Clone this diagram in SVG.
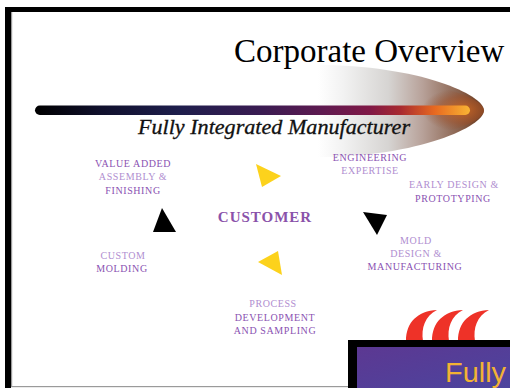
<svg xmlns="http://www.w3.org/2000/svg" width="510" height="388" viewBox="0 0 510 388">
  <defs>
    <linearGradient id="barGrad" gradientUnits="userSpaceOnUse" x1="35" y1="0" x2="470" y2="0">
      <stop offset="0" stop-color="#000000"/>
      <stop offset="0.15" stop-color="#10102c"/>
      <stop offset="0.33" stop-color="#1e1e4c"/>
      <stop offset="0.52" stop-color="#3a1c52"/>
      <stop offset="0.66" stop-color="#5e1a50"/>
      <stop offset="0.77" stop-color="#801846"/>
      <stop offset="0.84" stop-color="#a82a30"/>
      <stop offset="0.92" stop-color="#e86a20"/>
      <stop offset="1" stop-color="#f8b434"/>
    </linearGradient>
    <linearGradient id="cometGrad" gradientUnits="userSpaceOnUse" x1="318" y1="0" x2="486" y2="0">
      <stop offset="0" stop-color="#ffffff"/>
      <stop offset="0.15" stop-color="#f2f2f2"/>
      <stop offset="0.42" stop-color="#d6d4d2"/>
      <stop offset="0.62" stop-color="#b8a29a"/>
      <stop offset="0.8" stop-color="#926e5c"/>
      <stop offset="0.92" stop-color="#7a4a30"/>
      <stop offset="1" stop-color="#6a3a20"/>
    </linearGradient>
    <radialGradient id="cometGlow" gradientUnits="userSpaceOnUse" cx="462" cy="110" r="40" gradientTransform="translate(462 110) scale(1 0.55) translate(-462 -110)">
      <stop offset="0" stop-color="#d06820" stop-opacity="0.9"/>
      <stop offset="0.6" stop-color="#a05028" stop-opacity="0.5"/>
      <stop offset="1" stop-color="#905030" stop-opacity="0"/>
    </radialGradient>
    <linearGradient id="panelGrad" x1="0" y1="0" x2="1" y2="1">
      <stop offset="0" stop-color="#5c3892"/>
      <stop offset="1" stop-color="#4c449e"/>
    </linearGradient>
    <style>
      .lbl { font-family: "Liberation Serif", "Times New Roman", serif; font-size: 10px; letter-spacing: 0.6px; text-anchor: middle; }
      .lt { fill: #b08ed0; }
      .dk { fill: #8a52b2; }
      .tri-y { fill: #fcd21c; }
      .tri-k { fill: #000000; }
      .crescent { fill: #ee3228; }
    </style>
  </defs>

  <rect x="0" y="0" width="510" height="388" fill="#ffffff"/>

  <!-- frame -->
  <g id="frame">
    <rect x="5" y="7" width="505" height="5" fill="#000000"/>
    <rect x="5" y="7" width="6" height="381" fill="#000000"/>
    <rect x="11" y="12" width="1.2" height="375" fill="#9a9a9a"/>
    <rect x="11" y="386" width="340" height="1.2" fill="#9a9a9a"/>
  </g>

  <!-- title banner -->
  <g id="banner">
    <path d="M 316,65 C 420,65 484,95 484,110.5 C 484,126 420,157 316,157 Z" fill="url(#cometGrad)"/>
    <path d="M 420,84 C 460,90 484,102 484,110.5 C 484,119 460,131 420,137 Z" fill="url(#cometGlow)"/>
    <rect x="35" y="105.5" width="435" height="9.5" rx="4.75" fill="url(#barGrad)"/>
    <text x="234" y="62" font-family="'Liberation Serif', 'Times New Roman', serif" font-size="33" fill="#000000">Corporate Overview</text>
    <text x="138" y="134" font-family="'Liberation Serif', 'Times New Roman', serif" font-size="20" font-style="italic" fill="#111111" stroke="#111111" stroke-width="0.3" textLength="272" lengthAdjust="spacingAndGlyphs">Fully Integrated Manufacturer</text>
  </g>

  <!-- cycle nodes -->
  <g id="customer">
    <text x="265" y="222" font-family="'Liberation Serif', 'Times New Roman', serif" font-size="15" font-weight="bold" letter-spacing="1" text-anchor="middle" fill="#8a52aa">CUSTOMER</text>
  </g>
  <g id="value-added">
    <text class="lbl dk" x="133" y="167">VALUE ADDED</text>
    <text class="lbl lt" x="133" y="180">ASSEMBLY &amp;</text>
    <text class="lbl dk" x="133" y="193.5">FINISHING</text>
  </g>
  <g id="engineering">
    <text class="lbl dk" x="370" y="160.5">ENGINEERING</text>
    <text class="lbl lt" x="370" y="174">EXPERTISE</text>
  </g>
  <g id="early-design">
    <text class="lbl lt" x="454" y="188">EARLY DESIGN &amp;</text>
    <text class="lbl dk" x="453" y="201.5">PROTOTYPING</text>
  </g>
  <g id="mold-design">
    <text class="lbl lt" x="416" y="243.5">MOLD</text>
    <text class="lbl lt" x="416" y="256.5">DESIGN &amp;</text>
    <text class="lbl dk" x="415" y="269.5">MANUFACTURING</text>
  </g>
  <g id="process">
    <text class="lbl lt" x="273" y="306.5">PROCESS</text>
    <text class="lbl dk" x="275" y="320.5">DEVELOPMENT</text>
    <text class="lbl dk" x="275" y="333.5">AND SAMPLING</text>
  </g>
  <g id="custom-molding">
    <text class="lbl lt" x="123" y="259">CUSTOM</text>
    <text class="lbl dk" x="122" y="272">MOLDING</text>
  </g>

  <!-- cycle arrows -->
  <g id="connectors">
    <polygon class="tri-y" points="256,164 281,176 262,187"/>
    <polygon class="tri-k" points="363,212 387,215 377,235"/>
    <polygon class="tri-y" points="258,262 278,251 282,275"/>
    <polygon class="tri-k" points="162,208 176,232 153,232"/>
  </g>

  <!-- logo corner -->
  <g id="logo">
    <path class="crescent" d="M 437,310 C 418,311 406,322 406,341 L 423,341 C 421,328 425,316 437,310 Z"/>
    <path class="crescent" d="M 463,310 C 444,311 432,322 432,341 L 449,341 C 447,328 451,316 463,310 Z"/>
    <path class="crescent" d="M 489,310 C 470,311 458,322 458,341 L 475,341 C 473,328 477,316 489,310 Z"/>
    <rect x="348" y="340" width="162" height="48" fill="#000000"/>
    <rect x="357" y="347" width="153" height="41" fill="url(#panelGrad)"/>
    <text x="445" y="382" font-family="'Liberation Sans', Arial, sans-serif" font-size="27" fill="#f2b234" textLength="61" lengthAdjust="spacingAndGlyphs">Fully</text>
  </g>
</svg>
